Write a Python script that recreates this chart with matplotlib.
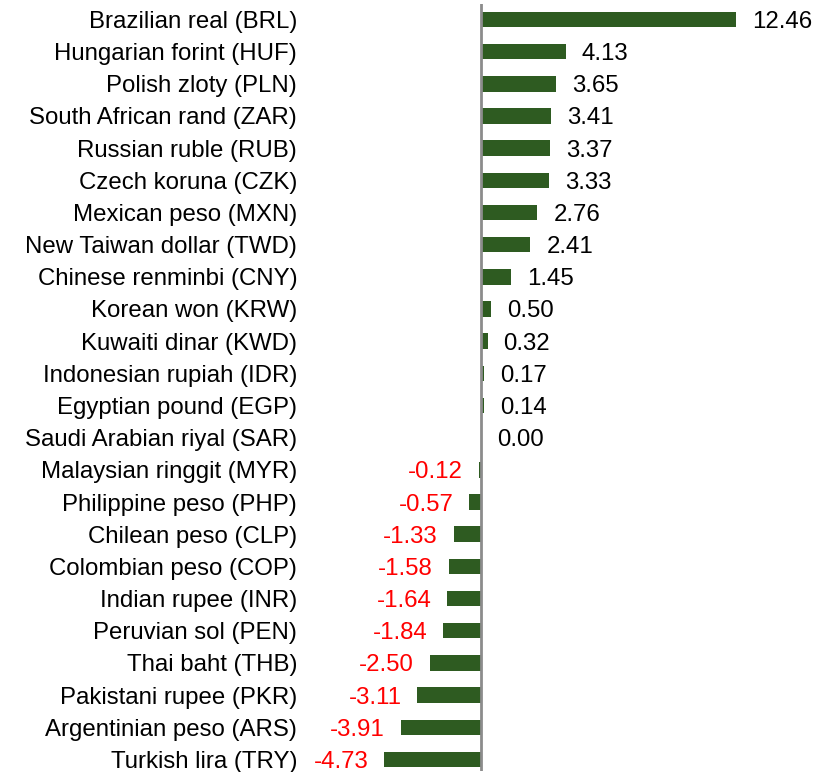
import matplotlib
matplotlib.use("Agg")
import matplotlib.pyplot as plt

categories = [
    "Brazilian real (BRL)", "Hungarian forint (HUF)", "Polish zloty (PLN)",
    "South African rand (ZAR)", "Russian ruble (RUB)", "Czech koruna (CZK)",
    "Mexican peso (MXN)", "New Taiwan dollar (TWD)", "Chinese renminbi (CNY)",
    "Korean won (KRW)", "Kuwaiti dinar (KWD)", "Indonesian rupiah (IDR)",
    "Egyptian pound (EGP)", "Saudi Arabian riyal (SAR)", "Malaysian ringgit (MYR)",
    "Philippine peso (PHP)", "Chilean peso (CLP)", "Colombian peso (COP)",
    "Indian rupee (INR)", "Peruvian sol (PEN)", "Thai baht (THB)",
    "Pakistani rupee (PKR)", "Argentinian peso (ARS)", "Turkish lira (TRY)",
]
values = [12.46, 4.13, 3.65, 3.41, 3.37, 3.33, 2.76, 2.41, 1.45, 0.50, 0.32,
          0.17, 0.14, 0.00, -0.12, -0.57, -1.33, -1.58, -1.64, -1.84, -2.50,
          -3.11, -3.91, -4.73]

plt.rcParams['font.family'] = ['Liberation Sans', 'DejaVu Sans']

W, H = 830, 772
fig = plt.figure(figsize=(W / 100, H / 100), dpi=100)
left_px, right_px, top_px, bottom_px = 300, 830, 4, 771
ax = fig.add_axes([left_px / W, 1 - bottom_px / H, (right_px - left_px) / W, (bottom_px - top_px) / H])

bar_color = "#2E5B21"
pos = list(range(len(categories)))
ax.barh(pos, values, height=0.48, color=bar_color, zorder=2)

scale = 255 / 12.46
ax.set_xlim(-(481 - left_px) / scale, (right_px - 481) / scale)
ax.set_ylim(23.36, -0.48)

ax.axvline(0, color="#8C8C8C", lw=2, zorder=3)

fs = 17.3
for p, v in zip(pos, values):
    if v < 0:
        ax.annotate(f"{v:.2f}", (v, p), xytext=(-11.5, 0), textcoords="offset points",
                    ha="right", va="center_baseline", fontsize=fs, color="#FF0000")
    else:
        ax.annotate(f"{v:.2f}", (v, p), xytext=(11.5, 0), textcoords="offset points",
                    ha="left", va="center_baseline", fontsize=fs, color="black")

ax.set_yticks(pos)
ax.set_yticklabels(categories, fontsize=fs)
ax.tick_params(axis="y", length=0, pad=2)
ax.set_xticks([])
for s in ax.spines.values():
    s.set_visible(False)

fig.savefig("out.png", dpi=100)
